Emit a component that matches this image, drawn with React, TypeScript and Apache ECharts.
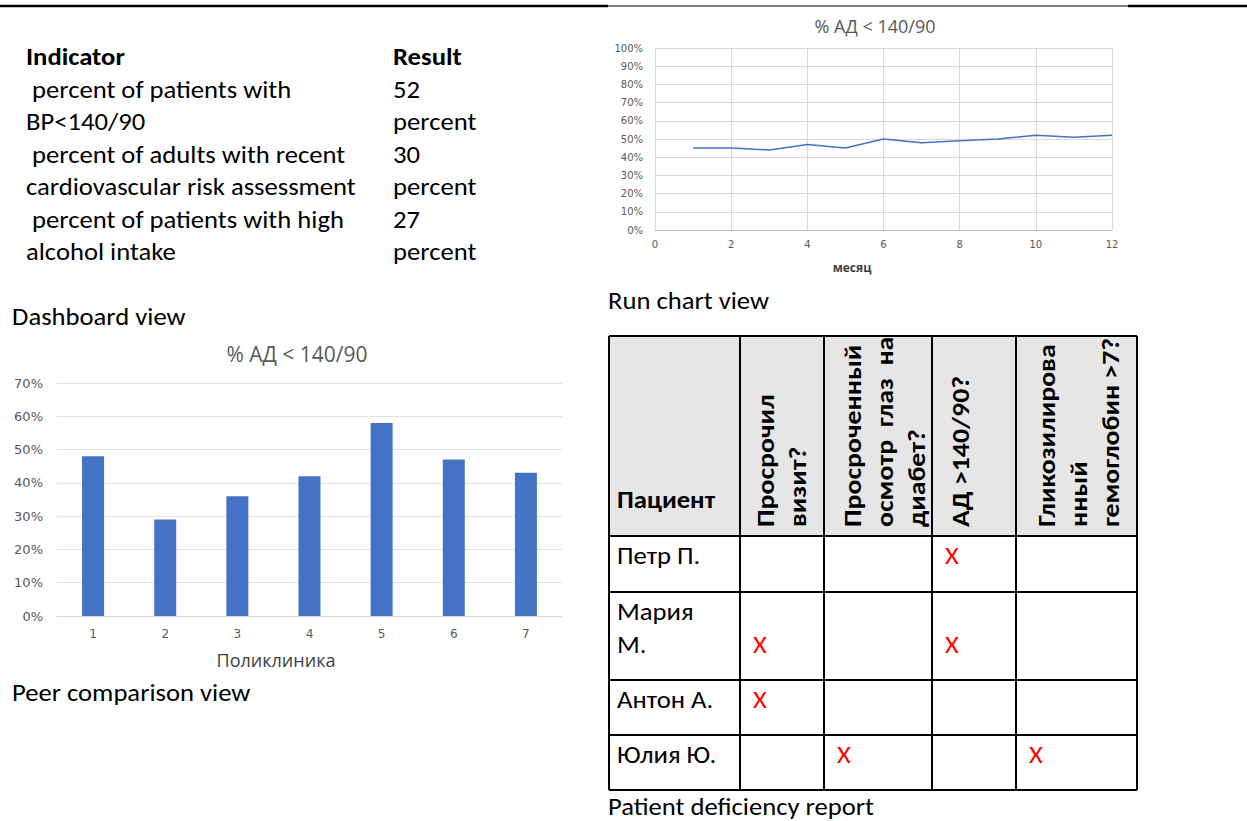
import React, { useEffect, useRef } from "react";
import * as echarts from "echarts";

// ---- data ----
const chartTitle = "% АД < 140/90";
const months = [1, 2, 3, 4, 5, 6, 7, 8, 9, 10, 11, 12];
const bpControlByMonth = [45, 45, 44, 47, 45, 50, 48, 49, 50, 52, 51, 52];
const monthAxisName = "месяц";

const clinics = ["1", "2", "3", "4", "5", "6", "7"];
const bpControlByClinic = [48, 29, 36, 42, 58, 47, 43];
const clinicAxisName = "Поликлиника";

const indicatorHeader = ["Indicator", "Result"];
const indicatorLabels = [
  [" percent of patients with", "BP<140/90"],
  [" percent of adults with recent", "cardiovascular risk assessment"],
  [" percent of patients with high", "alcohol intake"],
];
const indicatorResults = [52, 30, 27];
const resultUnit = "percent";

const patientHeader = "Пациент";
const checkHeaders = [
  ["Просрочил", "визит?"],
  ["Просроченный", "осмотр  глаз  на", "диабет?"],
  ["АД >140/90?"],
  ["Гликозилирова", "нный", "гемоглобин >7?"],
];
const patients = [["Петр П."], ["Мария", "М."], ["Антон А."], ["Юлия Ю."]];
const deficiencies = [
  [0, 0, 1, 0],
  [1, 0, 1, 0],
  [1, 0, 0, 0],
  [0, 1, 0, 1],
];

const captions = {
  dashboard: "Dashboard view",
  peer: "Peer comparison view",
  run: "Run chart view",
  report: "Patient deficiency report",
};

// ---- styling ----
const DOC_FONT = "Carlito, Lato, 'Noto Sans', sans-serif";
const CHART_FONT = "'Open Sans', 'Noto Sans', sans-serif";
const TICK_FONT = "'DejaVu Sans', sans-serif";
const BAR_BLUE = "#4472C4";
const GRID_GRAY = "#d9d9d9";
const LABEL_GRAY = "#595959";
const DOC_SIZE = 24;
const DOC_STRETCH = 1.11;
const HEAD_STRETCH = 1.16;
const LINE_STEP = 32.5;

function docText(text: string, x: number, y: number, extra: any = {}) {
  return {
    type: "text",
    x,
    y,
    scaleX: DOC_STRETCH,
    silent: true,
    style: {
      text,
      fill: "#000",
      fontFamily: DOC_FONT,
      fontSize: DOC_SIZE,
      align: "left",
      verticalAlign: "middle",
      ...extra,
    },
  };
}

function buildGraphics() {
  const g: any[] = [];

  // page rules across the top
  g.push({ type: "line", shape: { x1: 0, y1: 6, x2: 608, y2: 6 }, style: { stroke: "#000", lineWidth: 2.5 } });
  g.push({ type: "line", shape: { x1: 608, y1: 6, x2: 1128, y2: 6 }, style: { stroke: "#000", lineWidth: 1 } });
  g.push({ type: "line", shape: { x1: 1128, y1: 6, x2: 1247, y2: 6 }, style: { stroke: "#000", lineWidth: 2.5 } });

  // indicator summary
  g.push(docText(indicatorHeader[0], 26, 57, { fontWeight: "bold" }));
  g.push(docText(indicatorHeader[1], 393, 57, { fontWeight: "bold" }));
  indicatorLabels.forEach((lines, i) => {
    const y0 = 57 + LINE_STEP * (1 + 2 * i);
    g.push(docText(lines[0], 26, y0));
    g.push(docText(lines[1], 26, y0 + LINE_STEP));
    g.push(docText(String(indicatorResults[i]), 393, y0));
    g.push(docText(resultUnit, 393, y0 + LINE_STEP));
  });

  // captions
  g.push(docText(captions.dashboard, 12, 317));
  g.push(docText(captions.peer, 12, 693));
  g.push(docText(captions.run, 608, 301));
  g.push(docText(captions.report, 608, 807));

  // axis names
  g.push({
    type: "text", x: 852, y: 267, silent: true,
    style: { text: monthAxisName, fill: "#404040", fontFamily: CHART_FONT, fontSize: 12, fontWeight: "bold", align: "center", verticalAlign: "middle" },
  });
  g.push({
    type: "text", x: 276, y: 660, silent: true,
    style: { text: clinicAxisName, fill: "#404040", fontFamily: CHART_FONT, fontSize: 18, align: "center", verticalAlign: "middle" },
  });

  // patient deficiency table
  const colX = [609, 740, 824, 932, 1016, 1137];
  const rowY = [336, 536, 592, 680, 735, 790];
  g.push({ type: "rect", shape: { x: colX[0], y: rowY[0], width: colX[5] - colX[0], height: rowY[1] - rowY[0] }, style: { fill: "#e7e6e6" } });

  g.push(docText(patientHeader, 617, 500, { fontWeight: "bold" }));
  const headerLineX = [
    [766, 798],
    [853, 885, 917],
    [961],
    [1047, 1079, 1111],
  ];
  checkHeaders.forEach((lines, c) => {
    lines.forEach((t, k) => {
      g.push({
        type: "text",
        x: headerLineX[c][k],
        y: 527,
        rotation: Math.PI / 2,
        scaleX: HEAD_STRETCH,
        silent: true,
        style: { text: t, fill: "#000", fontFamily: DOC_FONT, fontSize: DOC_SIZE, fontWeight: "bold", align: "left", verticalAlign: "middle" },
      });
    });
  });

  patients.forEach((lines, r) => {
    lines.forEach((t, k) => {
      g.push(docText(t, 617, rowY[r + 1] + 20 + k * LINE_STEP));
    });
    const markY = rowY[r + 1] + 20 + (lines.length - 1) * LINE_STEP;
    deficiencies[r].forEach((flag, c) => {
      if (flag) {
        g.push(docText("X", colX[c + 1] + 20, markY, { fill: "#ff0000", align: "center" }));
      }
    });
  });

  // borders on top of the cell contents
  const bw = 2;
  colX.forEach((x) => {
    g.push({ type: "line", z: 10, shape: { x1: x, y1: rowY[0], x2: x, y2: rowY[5] }, style: { stroke: "#000", lineWidth: bw } });
  });
  rowY.forEach((y) => {
    g.push({ type: "line", z: 10, shape: { x1: colX[0], y1: y, x2: colX[5], y2: y }, style: { stroke: "#000", lineWidth: bw } });
  });

  return g;
}

export default function App() {
  const ref = useRef<HTMLDivElement>(null);

  useEffect(() => {
    if (!ref.current) return;
    const chart = echarts.init(ref.current, undefined, { renderer: "svg" });
    const tickLabel = (size: number) => ({ color: LABEL_GRAY, fontFamily: TICK_FONT, fontSize: size });

    chart.setOption({
      animation: false,
      backgroundColor: "#ffffff",
      title: [
        {
          text: chartTitle, left: 870, top: 12, textAlign: "center",
          textStyle: { color: LABEL_GRAY, fontFamily: CHART_FONT, fontSize: 18, fontWeight: "normal" },
        },
        {
          text: chartTitle, left: 292, top: 338, textAlign: "center",
          textStyle: { color: LABEL_GRAY, fontFamily: CHART_FONT, fontSize: 21, fontWeight: "normal" },
        },
      ],
      grid: [
        { left: 655, top: 48, width: 457, height: 182, containLabel: false },
        { left: 57, top: 383, width: 505, height: 233, containLabel: false },
      ],
      xAxis: [
        {
          gridIndex: 0, type: "value", min: 0, max: 12, interval: 2,
          axisLine: { show: true, lineStyle: { color: "#bfbfbf" } },
          axisTick: { show: false },
          splitLine: { show: true, lineStyle: { color: GRID_GRAY } },
          axisLabel: { ...tickLabel(10), margin: 9 },
        },
        {
          gridIndex: 1, type: "category", data: clinics,
          axisLine: { show: true, lineStyle: { color: GRID_GRAY } },
          axisTick: { show: false },
          axisLabel: { ...tickLabel(12), margin: 12 },
        },
      ],
      yAxis: [
        {
          gridIndex: 0, type: "value", min: 0, max: 100, interval: 10,
          axisLine: { show: true, lineStyle: { color: GRID_GRAY } },
          axisTick: { show: false },
          splitLine: { show: true, lineStyle: { color: GRID_GRAY } },
          axisLabel: { ...tickLabel(10), margin: 12, formatter: "{value}%" },
        },
        {
          gridIndex: 1, type: "value", min: 0, max: 70, interval: 10,
          axisLine: { show: false },
          axisTick: { show: false },
          splitLine: { show: true, lineStyle: { color: "#e3e3e3" } },
          axisLabel: { ...tickLabel(13), margin: 14, formatter: "{value}%" },
        },
      ],
      series: [
        {
          type: "line", xAxisIndex: 0, yAxisIndex: 0,
          data: months.map((m, i) => [m, bpControlByMonth[i]]),
          showSymbol: false,
          lineStyle: { color: BAR_BLUE, width: 1.5 },
        },
        {
          type: "bar", xAxisIndex: 1, yAxisIndex: 1,
          data: bpControlByClinic,
          barWidth: 22,
          itemStyle: { color: BAR_BLUE },
        },
      ],
      graphic: buildGraphics(),
    });

    return () => chart.dispose();
  }, []);

  return (
    <div
      ref={ref}
      style={{ position: "absolute", left: 0, top: 0, width: 1247, height: 821, background: "#fff" }}
    />
  );
}
